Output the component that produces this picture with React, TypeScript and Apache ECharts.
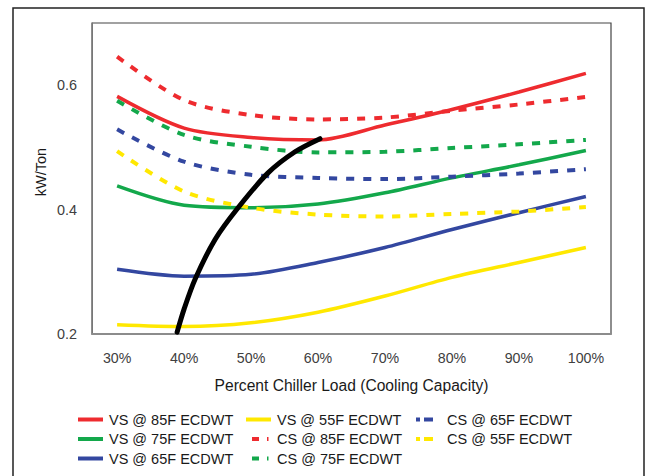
import React, { useEffect, useRef } from "react";
import * as echarts from "echarts";

const loadPct = [30, 40, 50, 60, 70, 80, 90, 100];
const xTickValues = [30, 40, 50, 60, 70, 80, 90, 100];
const yTickValues = [0.2, 0.4, 0.6];

const vs85 = [0.582, 0.531, 0.516, 0.512, 0.536, 0.561, 0.589, 0.619];
const vs75 = [0.438, 0.407, 0.403, 0.409, 0.427, 0.451, 0.472, 0.495];
const vs65 = [0.304, 0.293, 0.296, 0.315, 0.339, 0.368, 0.395, 0.421];
const vs55 = [0.215, 0.212, 0.218, 0.235, 0.261, 0.291, 0.315, 0.339];
const cs85 = [0.646, 0.576, 0.552, 0.545, 0.548, 0.559, 0.569, 0.581];
const cs75 = [0.575, 0.52, 0.501, 0.492, 0.493, 0.499, 0.505, 0.512];
const cs65 = [0.529, 0.477, 0.456, 0.451, 0.449, 0.453, 0.458, 0.465];
const cs55 = [0.494, 0.429, 0.403, 0.392, 0.389, 0.393, 0.397, 0.404];

const curveX = [38.96, 40.0, 41.64, 44.63, 48.06, 52.54, 56.57, 60.3];
const curveY = [0.203, 0.24, 0.288, 0.352, 0.403, 0.459, 0.493, 0.514];

const legendCol1 = ["VS @ 85F ECDWT", "VS @ 75F ECDWT", "VS @ 65F ECDWT"];
const legendCol2 = ["VS @ 55F ECDWT", "CS @ 85F ECDWT", "CS @ 75F ECDWT"];
const legendCol3 = ["CS @ 65F ECDWT", "CS @ 55F ECDWT"];

const RED = "#EE2B2F";
const GREEN = "#13A84B";
const BLUE = "#3347A0";
const YELLOW = "#FFE800";

const FONT = "Liberation Sans";

// legend icon shapes (25 x 4 box; tiny anchors keep the box size)
const ANCHORS = "M0,0H0.02V0.02H0Z M24.98,3.98H25V4H24.98Z ";
const ICON_SOLID = "path://M0,0H25V4H0Z";
const ICON_DASH_A = "path://" + ANCHORS + "M6,0H13V4H6Z M21,0H22.5V4H21Z";
const ICON_DASH_B = "path://" + ANCHORS + "M0,0H4V4H0Z M8,0H17V4H8Z";

function pairs(xs: number[], ys: number[]) {
  return xs.map((x, i) => [x, ys[i]]);
}

export default function App() {
  const ref = useRef<HTMLDivElement>(null);
  useEffect(() => {
    document.body.style.margin = "0";
    if (!ref.current) return;
    const chart = echarts.init(ref.current, undefined, { renderer: "svg" });

    const solid = (name: string, color: string, data: number[]) => ({
      name,
      type: "line",
      data: pairs(loadPct, data),
      symbol: "none",
      smooth: 0.3,
      lineStyle: { color, width: 3.5, type: "solid" },
      itemStyle: { color },
    });
    const dashed = (name: string, color: string, data: number[]) => ({
      name,
      type: "line",
      data: pairs(loadPct, data),
      symbol: "none",
      smooth: 0.3,
      lineStyle: { color, width: 4, type: [8, 9] },
      itemStyle: { color },
    });

    const legendBase = {
      orient: "vertical",
      top: 412,
      padding: 0,
      itemWidth: 25,
      itemHeight: 4,
      itemGap: 4.5,
      itemStyle: { borderWidth: 0 },
      textStyle: { fontFamily: FONT, fontSize: 14.5, color: "#1a1a1a", padding: [0, 0, 0, 1] },
      selectedMode: false,
    };

    chart.setOption({
      animation: false,
      backgroundColor: "#ffffff",
      grid: {
        left: 92,
        top: 23,
        right: 38,
        bottom: 142,
        show: true,
        borderColor: "#444",
        borderWidth: 1.2,
        backgroundColor: "transparent",
      },
      xAxis: {
        type: "value",
        min: 26.25,
        max: 103.75,
        name: "Percent Chiller Load (Cooling Capacity)",
        nameLocation: "middle",
        nameGap: 43,
        nameTextStyle: { fontFamily: FONT, fontSize: 15.6, color: "#1a1a1a" },
        axisLine: { show: true, lineStyle: { color: "#8c8c8c", width: 2 } },
        axisTick: { show: false },
        splitLine: { show: false },
        axisLabel: {
          customValues: xTickValues,
          formatter: (v: number) => `${v}%`,
          fontFamily: FONT,
          fontSize: 14.2,
          color: "#404040",
          margin: 17,
        },
      },
      yAxis: {
        type: "value",
        min: 0.2,
        max: 0.7,
        axisLine: { show: true, lineStyle: { color: "#777", width: 1 } },
        axisTick: { show: false },
        splitLine: { show: false },
        axisLabel: {
          customValues: yTickValues,
          formatter: (v: number) => v.toFixed(1),
          fontFamily: FONT,
          fontSize: 14.4,
          color: "#404040",
          margin: 15,
        },
      },
      legend: [
        {
          ...legendBase,
          left: 78,
          data: legendCol1.map((n) => ({ name: n, icon: ICON_SOLID })),
        },
        {
          ...legendBase,
          left: 246,
          data: legendCol2.map((n, i) => ({ name: n, icon: i === 0 ? ICON_SOLID : ICON_DASH_A })),
        },
        {
          ...legendBase,
          left: 416,
          data: legendCol3.map((n) => ({ name: n, icon: ICON_DASH_B })),
        },
      ],
      graphic: [
        {
          type: "rect",
          shape: { x: 13, y: 8, width: 631, height: 500 },
          style: { fill: "none", stroke: "#222", lineWidth: 1.5 },
          silent: true,
        },
        {
          type: "text",
          x: 41,
          y: 172,
          rotation: Math.PI / 2,
          style: {
            text: "kW/Ton",
            align: "center",
            verticalAlign: "middle",
            fontFamily: FONT,
            fontSize: 14.5,
            fill: "#1a1a1a",
          },
          silent: true,
        },
      ],
      series: [
        solid("VS @ 85F ECDWT", RED, vs85),
        solid("VS @ 75F ECDWT", GREEN, vs75),
        solid("VS @ 65F ECDWT", BLUE, vs65),
        solid("VS @ 55F ECDWT", YELLOW, vs55),
        dashed("CS @ 85F ECDWT", RED, cs85),
        dashed("CS @ 75F ECDWT", GREEN, cs75),
        dashed("CS @ 65F ECDWT", BLUE, cs65),
        dashed("CS @ 55F ECDWT", YELLOW, cs55),
        {
          name: "curve",
          type: "line",
          data: pairs(curveX, curveY),
          symbol: "none",
          smooth: 0.3,
          lineStyle: { color: "#000", width: 5, cap: "round" },
          z: 5,
        },
      ],
    });
    return () => chart.dispose();
  }, []);
  return <div ref={ref} style={{ width: 649, height: 476 }} />;
}
